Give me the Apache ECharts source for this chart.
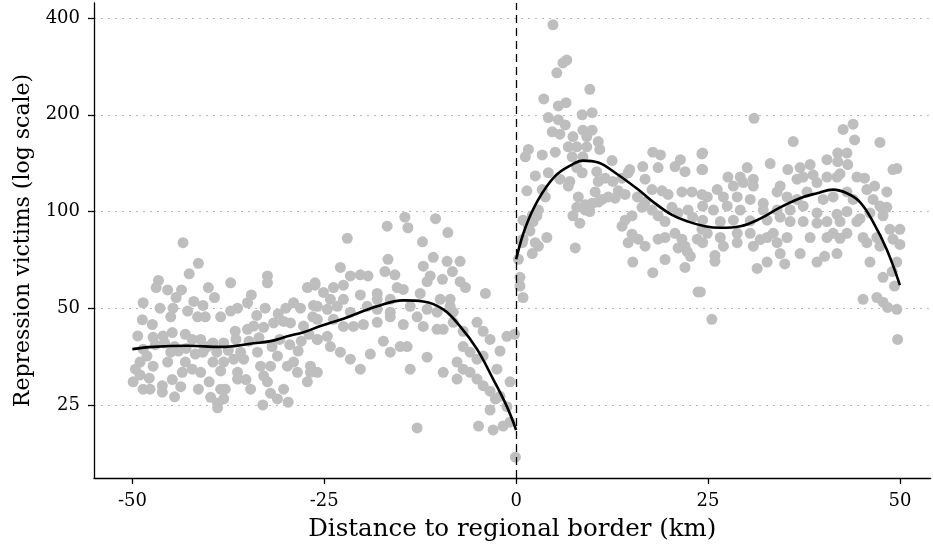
<!DOCTYPE html>
<html>
<head>
<meta charset="utf-8">
<script src="https://cdn.jsdelivr.net/npm/echarts@6/dist/echarts.min.js"></script>
<style>
  html, body { margin: 0; padding: 0; background: #fff; }
  #main { width: 933px; height: 552px; }
</style>
</head>
<body>
<div id="main"></div>
<script>
// distance (km), victims -- left of the border
var leftPoints = [
  [-43.4,80],[-41.4,69],[-42.6,64],[-46.6,61],[-46.9,58],[-45.4,57],[-43.6,57],[-40.1,58],[-39.3,54],[-44.3,54],
  [-48.6,52],[-46.4,50],[-44.7,50],[-42.8,49],[-40.8,51],[-41.5,47],[-40.5,47],[-38.5,47],[-37.2,60],[-32.4,63],
  [-32.4,60],[-35,52],[-36.3,50],[-37.2,49],[-32.7,50],[-29,52],[-27.2,58],[-26.2,59],[-28.1,50],[-26.4,51],
  [-48.7,46],[-47.4,44.5],[-49.3,41],[-47.3,40.6],[-46,41],[-44.8,42],[-43.1,41.5],[-42.2,40],[-41.1,40],[-39.5,39],
  [-38.1,39],[-36.6,42.4],[-35,43],[-34.2,44],[-32.9,43.6],[-31.6,45],[-30.3,45.5],[-29.4,45],[-27.7,44],[-25.9,40],
  [-48.6,37.3],[-48.1,35.5],[-49,34],[-49.6,32.3],[-47.3,33],[-45.4,34],[-45,36.5],[-44,36.8],[-43.1,34],[-43.5,31.6],
  [-42.2,32.3],[-41.1,31.6],[-40.8,36.5],[-39.5,34],[-38.5,31.9],[-38.1,34],[-36.8,34.7],[-36.3,31.6],[-35.5,34.7],[-35.9,36.5],
  [-33.7,36.5],[-33.3,33],[-32,33],[-32.9,30.8],[-31.1,35.5],[-29.8,33],[-29,34],[-28.5,31.6],[-28.4,36.8],[-26.8,33],
  [-49.9,29.5],[-48.6,28],[-47.7,28],[-46.1,28.7],[-46.1,27.4],[-43.7,28.5],[-41.4,28],[-39.8,26.4],[-38.9,25.3],[-38.9,24.5],
  [-38.1,26.1],[-38.5,28],[-37.9,28],[-34.6,28],[-32,27.2],[-31.1,26.1],[-30.3,28],[-29.7,25.5],[-27.2,29.5],[-32.4,29.5],
  [-36.3,30.1],[-47,38.5],[-45.8,39],[-44.5,38],[-43,37.5],[-41.8,36],[-40.2,38],[-39,36.5],[-37.5,37],[-36.5,40],
  [-34.8,39.5],[-33.5,40.5],[-31.8,38],[-30.8,40],[-29.5,38.5],[-28,39.5],[-27,41.5],[-26.5,47],[-31,48],[-33.8,47.5],
  [-30,50],[-34.5,55],[-42,52.5],[-45,47],[-49,31],[-47.8,30.3],[-44.8,30],[-40,29.5],[-35.2,30],[-33,25],
  [-44.5,26.5],
  [-14.5,96],[-14.1,89],[-10.5,95],[-16.8,90],[-22,82.5],[-12.2,80.5],[-8.9,86],[-16.7,71],[-22.9,67],[-21.6,63],
  [-20.3,63.5],[-19.3,63],[-17.1,65],[-15.8,63.5],[-12.1,67.6],[-10.8,72],[-9,70],[-7.3,70],[-8.3,65],[-11.2,63],
  [-11.6,60.5],[-9.6,61.5],[-7.3,60.5],[-6.6,58],[-4,55.6],[-26.2,60],[-25.1,56],[-23.8,58],[-22.5,59],[-24.2,53.3],
  [-22.5,53.3],[-20.3,55],[-18.1,55.6],[-18.1,53.3],[-16.4,53.3],[-15.5,58],[-14.7,57.2],[-12.5,55.6],[-9.9,53.3],[-8.6,53.3],
  [-25.9,50.7],[-24.6,49.6],[-23.3,50.7],[-21.6,48.6],[-19.4,50.7],[-18.1,49.6],[-16.4,48.6],[-13.8,50.7],[-12.9,47],[-11.6,49.6],
  [-10.3,48.6],[-8.6,50.7],[-8.2,48.6],[-25.9,46.2],[-23.8,46.2],[-22.5,43.9],[-21.2,43.9],[-19.9,44.5],[-18.1,45.2],[-16.4,47],
  [-14.7,44.5],[-12.1,43.9],[-10.3,43],[-9.5,43],[-8.2,45.2],[-6.9,42.4],[-5.1,45.2],[-4.3,42.4],[-3.4,40],[-1.2,40.9],
  [-25.9,40],[-24.6,40.9],[-24.2,38],[-22.9,36.5],[-21.6,34.7],[-19,36],[-17.3,39.5],[-16.4,36.5],[-15.1,38],[-14.2,38],
  [-11.6,35.2],[-9.5,31.6],[-7.7,34],[-6.9,38],[-6,36.5],[-5.1,34.7],[-4.3,35.5],[-6.9,32.3],[-7.7,30.1],[-6,31.6],
  [-5.1,30.1],[-4.3,28.7],[-2.5,32.3],[-2.1,36.8],[-0.8,29.5],[-3.4,27.6],[-2.7,26.1],[-2.1,26.6],[-3.4,24.1],[-1.2,24.7],
  [-4.9,21.5],[-3,20.9],[-1.7,21.5],[-0.8,22.1],[-12.9,21.2],[-13.8,32.3],[-20.3,32.3],[-26.8,31.6],[-25.9,31.6],[-0.1,17.2],
  [-0.2,41.5]
];

// distance (km), victims -- right of the border
var rightPoints = [
  [4.8,381],[6.6,296],[6.1,290],[5.3,270],[9.6,240],[3.6,224],[5.5,213],[6.5,218],[8.6,200],[9.9,203],
  [4.2,196],[5.5,193],[6.4,186],[4.7,177],[5.7,174],[7.4,171],[8.7,179],[9.9,179],[9.2,171],[6.8,159],
  [7.9,159],[9.2,159],[10.7,165],[10.9,156],[1.6,156],[1.2,148],[3.4,150],[5.1,153],[7.3,148],[8.7,148],
  [12.5,144],[17.8,153],[18.8,150],[16.5,138],[18.5,137],[14.8,135],[21.4,145],[20.7,138],[22,133],[24.2,151],
  [24.2,135],[2.5,129],[4.2,132],[5.7,126],[7,124],[7.9,137],[8.6,132],[10.5,133],[11.6,127],[10.7,124],
  [12.6,124],[13.8,127],[14.6,132],[16.8,126],[17.7,117],[19,116],[19.8,113],[21.6,115],[22.9,115],[24.2,113],
  [1.4,116],[3.4,117],[3.8,111],[6.8,120],[10.3,115],[11.2,109],[12,111],[13.3,116],[12.9,110],[14.2,113],
  [15.8,111],[16.4,103],[16.8,107],[8.1,111],[9,105],[7.9,103],[9.9,106],[10.7,107],[9,101],[9.6,100],
  [7.4,97],[8.3,92],[2.9,101],[2.7,97],[2.2,93],[0.9,94],[1.8,87],[4,83],[0.8,80],[2.9,78],
  [7.7,77],[14.2,94],[15.1,97],[13.8,90],[15.1,85],[15.9,82],[14.6,80],[16.8,78],[17.7,101],[18.5,97],
  [19.4,93],[20.3,103],[21.1,99],[22.4,101],[23,96],[19.4,83],[20.7,85.5],[21.6,82],[18.5,82],[22,78],
  [23.6,82],[24.2,88],[2.1,97],[1.6,90],[0.9,82],[2.5,80],[2.1,74],[0.3,71],[0.5,62.4],[0.5,58.6],
  [0.9,54],[15.2,69.6],[17.8,64.5],[19.4,70.9],[21.1,77],[22.3,75],[22,67],[22.7,72.5],[23.7,56.2],
  [31,195],[43.9,187],[42.6,180],[44.1,167],[36.1,165],[47.4,164],[24.3,152],[41.9,152],[43.1,152],[40.5,145],
  [33.1,141],[30.1,137],[37,137],[38.3,140],[41.9,143],[43.2,140],[35.4,135],[49.1,135],[49.6,136],[24.3,135],
  [27.6,128],[29.2,128],[30.9,126],[37.4,128],[38.7,130],[40.5,128],[42.2,131],[44.4,128],[45.4,127],[26.2,117],
  [28.3,120],[29.6,123],[30.9,120],[34.4,120],[36.6,126],[39.2,123],[41.8,128],[45.7,117],[46.7,120],[48.3,115],
  [24.9,111],[27,111],[28.8,111],[30.5,109],[32.2,106],[34,115],[35.3,111],[36.6,109],[37.9,115],[40,109],
  [41.3,111],[43.1,115],[43.9,109],[46.5,109],[47.4,104],[24.3,104],[25.7,101],[27.5,104],[29.2,101],[32.2,101],
  [34,101],[35.7,101],[37.4,104],[39.2,99],[41.8,98],[43.1,100],[44.8,95],[46.1,99],[47.8,97],[48.3,103],
  [24.3,94],[26.6,93],[28.3,94],[30.5,93.5],[32.7,94],[34.4,96],[35.7,93],[37.4,93],[39.2,92],[40.5,93],
  [42.2,93],[44.4,93],[24.9,85.5],[26.6,83],[28.8,85.5],[30.5,85.5],[32.7,83],[33.5,85.5],[35.3,83],[38.3,83],
  [40.5,83],[41.3,85.5],[43.1,85.5],[45.2,83],[47,83],[48.7,88],[50,88],[24.3,80],[27,78],[28.8,80],
  [30.9,78],[31.8,81.8],[34,80],[34.4,74],[42.2,82.5],[45.7,80],[47.4,78],[49.1,82],[50,79],[25.9,73],
  [25.9,70],[37,74],[39.2,69.6],[40.2,72.5],[41.8,74],[31.4,66.5],[32.7,69.6],[35,68.7],[46.1,69.6],[49.6,69.6],
  [49,65],[47.8,62.4],[49.3,58.6],[45.2,53.3],[47,54],[47.8,52.2],[48.4,50.3],[49.6,49.6],[24,56.2],[25.5,46.2],
  [49.7,40]
];

// fitted curves
var leftCurveX = [-50,-47.3,-42.8,-38.5,-34.2,-32,-29.8,-27.7,-25.5,-22.5,-18.1,-14.7,-12.1,-9.5,-7.3,-5.1,-3,-1.2,0];
var leftCurveY = [37.3,37.9,38.2,37.9,38.9,39.5,40.9,42.1,44,46.4,50.7,52.9,52.5,49.6,43.9,37.3,30.1,24.7,20.9];
var rightCurveX = [0,1.2,2.9,5.1,7.3,8.7,10.7,12.9,15.9,18.1,20.3,22.4,24.6,26.6,29.2,31.8,34.4,37,39.2,41.3,43.1,44.8,46.5,48.3,50];
var rightCurveY = [71,89,109,129,140,144,142,132,117,106,97.6,93,90,89,90,95,103,110,114,117,114,107,92.8,76,59];

var yTicks = [25, 50, 100, 200, 400];
var xTicks = [-50, -25, 0, 25, 50];

function lg(v) { return Math.log2(v); }
function toLog(arr) { return arr.map(function (p) { return [p[0], lg(p[1])]; }); }
function zipLog(xs, ys) { return xs.map(function (x, i) { return [x, lg(ys[i])]; }); }

var font = 'DejaVu Serif';
var myChart = echarts.init(document.getElementById('main'));
var option = {
    animation: false,
    backgroundColor: '#fff',
    grid: { left: 94, right: 2.4, top: 3, bottom: 74 },
    xAxis: {
        type: 'value',
        min: -55,
        max: 54,
        name: 'Distance to regional border (km)',
        nameLocation: 'middle',
        nameGap: 39,
        nameTextStyle: { fontFamily: font, fontSize: 24.5, color: '#000' },
        axisLine: { onZero: false, lineStyle: { color: '#000', width: 1.3 } },
        axisTick: { customValues: xTicks, length: 6, lineStyle: { color: '#000', width: 1.3 } },
        axisLabel: { customValues: xTicks, margin: 14, fontFamily: font, fontSize: 18, color: '#000' },
        splitLine: { show: false }
    },
    yAxis: {
        type: 'value',
        min: 3.889,
        max: 8.799,
        name: 'Repression victims (log scale)',
        nameLocation: 'middle',
        nameGap: 56,
        nameTextStyle: { fontFamily: font, fontSize: 22, color: '#000' },
        axisLine: { show: true, onZero: false, lineStyle: { color: '#000', width: 1.3 } },
        axisTick: { show: true, customValues: yTicks.map(lg), length: 6, lineStyle: { color: '#000', width: 1.3 } },
        axisLabel: {
            customValues: yTicks.map(lg),
            margin: 14, fontFamily: font, fontSize: 18, color: '#000',
            formatter: function (v) { return String(Math.round(Math.pow(2, v))); }
        },
        splitLine: { show: true, lineStyle: { color: '#bbb', width: 1, type: [2, 5] } }
    },
    series: [
        {
            type: 'scatter', data: toLog(leftPoints), symbolSize: 11,
            itemStyle: { color: '#bebebe', opacity: 1 }, z: 2
        },
        {
            type: 'scatter', data: toLog(rightPoints), symbolSize: 11,
            itemStyle: { color: '#bebebe', opacity: 1 }, z: 2,
            markLine: {
                silent: true, symbol: 'none', label: { show: false },
                lineStyle: { color: '#000', width: 1.3, type: [8, 5] },
                data: [{ xAxis: 0 }]
            }
        },
        {
            type: 'line', data: zipLog(leftCurveX, leftCurveY), smooth: 0.4, showSymbol: false,
            lineStyle: { color: '#000', width: 2.6 }, z: 4
        },
        {
            type: 'line', data: zipLog(rightCurveX, rightCurveY), smooth: 0.4, showSymbol: false,
            lineStyle: { color: '#000', width: 2.6 }, z: 4
        }
    ]
};
myChart.setOption(option);
</script>
</body>
</html>
